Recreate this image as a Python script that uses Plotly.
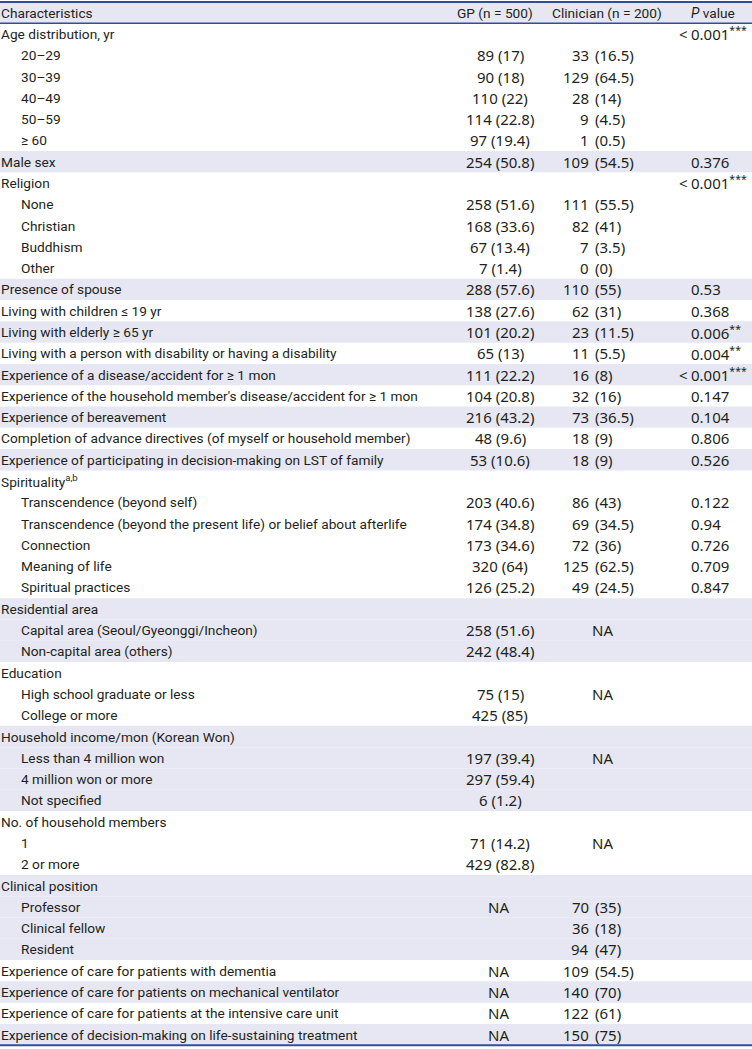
import plotly.graph_objects as go

# ---------------- data ----------------
labels = [
    "Age distribution, yr", "20–29", "30–39", "40–49", "50–59", "≥ 60",
    "Male sex", "Religion", "None", "Christian", "Buddhism", "Other",
    "Presence of spouse", "Living with children ≤ 19 yr", "Living with elderly ≥ 65 yr",
    "Living with a person with disability or having a disability",
    "Experience of a disease/accident for ≥ 1 mon",
    "Experience of the household member's disease/accident for ≥ 1 mon",
    "Experience of bereavement",
    "Completion of advance directives (of myself or household member)",
    "Experience of participating in decision-making on LST of family",
    "Spirituality<sup>a,b</sup>", "Transcendence (beyond self)",
    "Transcendence (beyond the present life) or belief about afterlife",
    "Connection", "Meaning of life", "Spiritual practices",
    "Residential area", "Capital area (Seoul/Gyeonggi/Incheon)", "Non-capital area (others)",
    "Education", "High school graduate or less", "College or more",
    "Household income/mon (Korean Won)", "Less than 4 million won", "4 million won or more",
    "Not specified", "No. of household members", "1", "2 or more",
    "Clinical position", "Professor", "Clinical fellow", "Resident",
    "Experience of care for patients with dementia",
    "Experience of care for patients on mechanical ventilator",
    "Experience of care for patients at the intensive care unit",
    "Experience of decision-making on life-sustaining treatment",
]
sub_rows = [1, 2, 3, 4, 5, 8, 9, 10, 11, 22, 23, 24, 25, 26, 28, 29, 31, 32,
            34, 35, 36, 38, 39, 41, 42, 43]

gp_n = [None, 89, 90, 110, 114, 97, 254, None, 258, 168, 67, 7, 288, 138, 101, 65,
        111, 104, 216, 48, 53, None, 203, 174, 173, 320, 126, None, 258, 242, None,
        75, 425, None, 197, 297, 6, None, 71, 429, None, "NA", None, None,
        "NA", "NA", "NA", "NA"]
gp_pct = [None, 17, 18, 22, 22.8, 19.4, 50.8, None, 51.6, 33.6, 13.4, 1.4, 57.6,
          27.6, 20.2, 13, 22.2, 20.8, 43.2, 9.6, 10.6, None, 40.6, 34.8, 34.6, 64,
          25.2, None, 51.6, 48.4, None, 15, 85, None, 39.4, 59.4, 1.2, None, 14.2,
          82.8, None, None, None, None, None, None, None, None]
cl_n = [None, 33, 129, 28, 9, 1, 109, None, 111, 82, 7, 0, 110, 62, 23, 11, 16, 32,
        73, 18, 18, None, 86, 69, 72, 125, 49, None, "NA", None, None, "NA", None,
        None, "NA", None, None, None, "NA", None, None, 70, 36, 94, 109, 140, 122, 150]
cl_pct = [None, 16.5, 64.5, 14, 4.5, 0.5, 54.5, None, 55.5, 41, 3.5, 0, 55, 31, 11.5,
          5.5, 8, 16, 36.5, 9, 9, None, 43, 34.5, 36, 62.5, 24.5] + [None] * 14 + \
         [35, 18, 47, 54.5, 70, 61, 75]
p_value = ["< 0.001", None, None, None, None, None, "0.376", "< 0.001", None, None,
           None, None, "0.53", "0.368", "0.006", "0.004", "< 0.001", "0.147", "0.104",
           "0.806", "0.526", None, "0.122", "0.94", "0.726", "0.709", "0.847"] + [None] * 21
p_stars = {0: "***", 7: "***", 14: "**", 15: "**", 16: "***"}

headers = ["Characteristics", "GP (n = 500)", "Clinician (n = 200)", "<i>P</i> value"]

# ---------------- style ----------------
W, H = 752, 1049
row_h = 21.29
top0 = 23.3
TXT = "#231f20"
BAND = "#E6E7F3"
LINE = "#2F4F9E"
LFONT = "Roboto"
NFONT = "Noto Sans"
LFS = 13.7
NFS = 15

n = len(labels)
v_top = -(top0 / row_h) - 0.5
v_bot = (H - top0) / row_h - 0.5

shaded = []
g = -1
for i in range(n):
    if i not in sub_rows:
        g += 1
    shaded.append(g % 2 == 1)

shapes = []
shapes.append(dict(type="rect", xref="paper", yref="y", x0=0, x1=1, y0=-1.5, y1=-0.5,
                   fillcolor=BAND, line_width=0, layer="below"))
for i in range(n):
    if shaded[i]:
        shapes.append(dict(type="rect", xref="paper", yref="y", x0=0, x1=1,
                           y0=i - 0.5, y1=i + 0.5, fillcolor=BAND, line_width=0,
                           layer="below"))
for yv, w in [(-1.5, 2), (-0.5, 1.5), (n - 0.5, 2)]:
    shapes.append(dict(type="line", xref="paper", yref="y", x0=0, x1=1, y0=yv, y1=yv,
                       line=dict(color=LINE, width=w)))

ann = []


def add(x, y, text, anchor, family, size):
    ann.append(dict(x=x, y=y, xref="x", yref="y", text=text, showarrow=False,
                    xanchor=anchor, yanchor="middle", borderpad=0, borderwidth=0,
                    font=dict(family=family, size=size, color=TXT)))


def fmt(v):
    return f"{v:g}"


hy = -1.0
add(1, hy, headers[0], "left", LFONT, LFS)
add(495, hy, headers[1], "center", LFONT, LFS)
add(607, hy, headers[2], "center", LFONT, LFS)
add(713, hy, headers[3], "center", LFONT, LFS)

X_GP = 500
X_CL_N = 589
X_CL_P = 595
X_P = 691

for i in range(n):
    indent = 21 if i in sub_rows else 1
    add(indent, i, labels[i], "left", LFONT, LFS)
    if gp_n[i] == "NA":
        add(X_GP - 2, i, "NA", "center", NFONT, NFS)
    elif gp_n[i] is not None:
        add(X_GP, i, f"{gp_n[i]} ({fmt(gp_pct[i])})", "center", NFONT, NFS)
    if cl_n[i] == "NA":
        add(X_CL_P - 3, i, "NA", "left", NFONT, NFS)
    elif cl_n[i] is not None:
        add(X_CL_N, i, f"{cl_n[i]}", "right", NFONT, NFS)
        add(X_CL_P, i, f"({fmt(cl_pct[i])})", "left", NFONT, NFS)
    if p_value[i] is not None:
        txt = p_value[i]
        stars = p_stars.get(i, "")
        if txt.startswith("<"):
            add(X_P - 3, i, "<", "right", NFONT, NFS)
            txt = txt[1:].strip()
        if stars:
            txt += f"<sup>{stars}</sup>"
        add(X_P, i, txt, "left", NFONT, NFS)

fig = go.Figure()
fig.update_layout(
    width=W, height=H, margin=dict(l=0, r=0, t=0, b=0),
    paper_bgcolor="white", plot_bgcolor="white",
    xaxis=dict(range=[0, W], visible=False, fixedrange=True),
    yaxis=dict(range=[v_bot, v_top], visible=False, fixedrange=True),
    shapes=shapes, annotations=ann, showlegend=False,
)
fig.write_html("out.html", config={"displayModeBar": False},
               post_script="document.body.style.margin='0';document.body.style.overflow='hidden';")
